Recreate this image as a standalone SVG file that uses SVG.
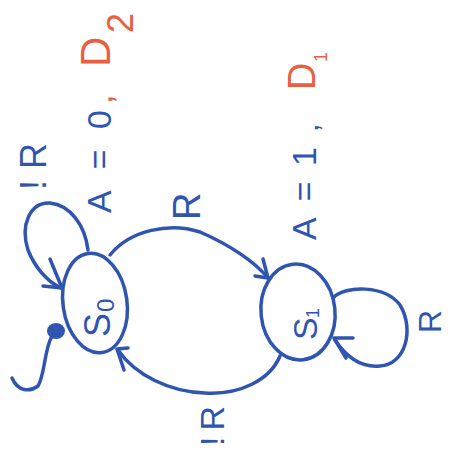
<svg xmlns="http://www.w3.org/2000/svg" width="451" height="452" viewBox="0 0 451 452">
<style>
.s{fill:none;stroke:#2f55b0;stroke-width:3.5;stroke-linecap:round;stroke-linejoin:round}
.b{fill:#2f55b0;font-family:"Liberation Sans",Arial,sans-serif}
.r{fill:#e8603f;font-family:"Liberation Sans",Arial,sans-serif}
</style>
<rect width="451" height="452" fill="#ffffff"/>
<g id="S0">
<ellipse class="s" cx="95" cy="303" rx="32" ry="50" transform="rotate(-8 95 303)"/>
<text class="b" font-size="36" transform="translate(110 337) rotate(-90)">S</text>
<text class="b" font-size="24" transform="translate(114 312) rotate(-90)">0</text>
</g>
<g id="S1">
<ellipse class="s" cx="298" cy="312" rx="37" ry="48" transform="rotate(-6 298 312)"/>
<text class="b" font-size="34" transform="translate(317 340) rotate(-90)">S</text>
<text class="b" font-size="18" transform="translate(319 318) rotate(-90)">1</text>
</g>
<g id="connectors">
<path class="s" d="M 88 250 C 85 225 70 205 50 203 C 30 202 20 225 28 250 C 35 268 48 282 61 288"/>
<path class="s" d="M 50 259 L 62 288 L 43 286"/>
<path class="s" d="M 110 255 C 130 230 170 222 200 232 C 230 245 255 262 268 278"/>
<path class="s" d="M 263 259 L 268 278 L 255 276"/>
<path class="s" d="M 280 356 C 270 380 240 395 205 393 C 170 392 135 375 118 350"/>
<path class="s" d="M 128 348 L 117 349 L 124 370"/>
<path class="s" d="M 333 298 C 345 285 385 285 400 305 C 415 330 405 365 380 366 C 360 368 345 355 335 340"/>
<path class="s" d="M 353 338 L 334 338 L 346 358"/>
<path class="s" d="M 12 378 C 18 392 30 392 38 386 C 45 375 44 350 52 336"/>
<ellipse cx="56" cy="331" rx="9" ry="8" fill="#2f55b0"/>
</g>
<g id="labels">
<text class="b" font-size="36" textLength="47" lengthAdjust="spacing" transform="translate(46 190) rotate(-90)">!R</text>
<text class="b" font-size="34" textLength="103" lengthAdjust="spacing" transform="translate(111 213) rotate(-90)">A=0</text>
<text class="r" font-size="34" transform="translate(112 104) rotate(-90)">,</text>
<text class="r" font-size="42" transform="translate(110 67) rotate(-90)">D</text>
<text class="r" font-size="36" transform="translate(133 33) rotate(-90)">2</text>
<text class="b" font-size="38" transform="translate(200 220) rotate(-90)">R</text>
<text class="b" font-size="34" textLength="93" lengthAdjust="spacing" transform="translate(316 240) rotate(-90)">A=1</text>
<text class="b" font-size="30" transform="translate(318 132) rotate(-90)">,</text>
<text class="r" font-size="38" transform="translate(315 90) rotate(-90)">D</text>
<text class="r" font-size="18" transform="translate(327 62) rotate(-90)">1</text>
<text class="b" font-size="32" transform="translate(441 333) rotate(-90)">R</text>
<text class="b" font-size="34" textLength="40" lengthAdjust="spacing" transform="translate(224 446) rotate(-90)">!R</text>
</g>
</svg>
